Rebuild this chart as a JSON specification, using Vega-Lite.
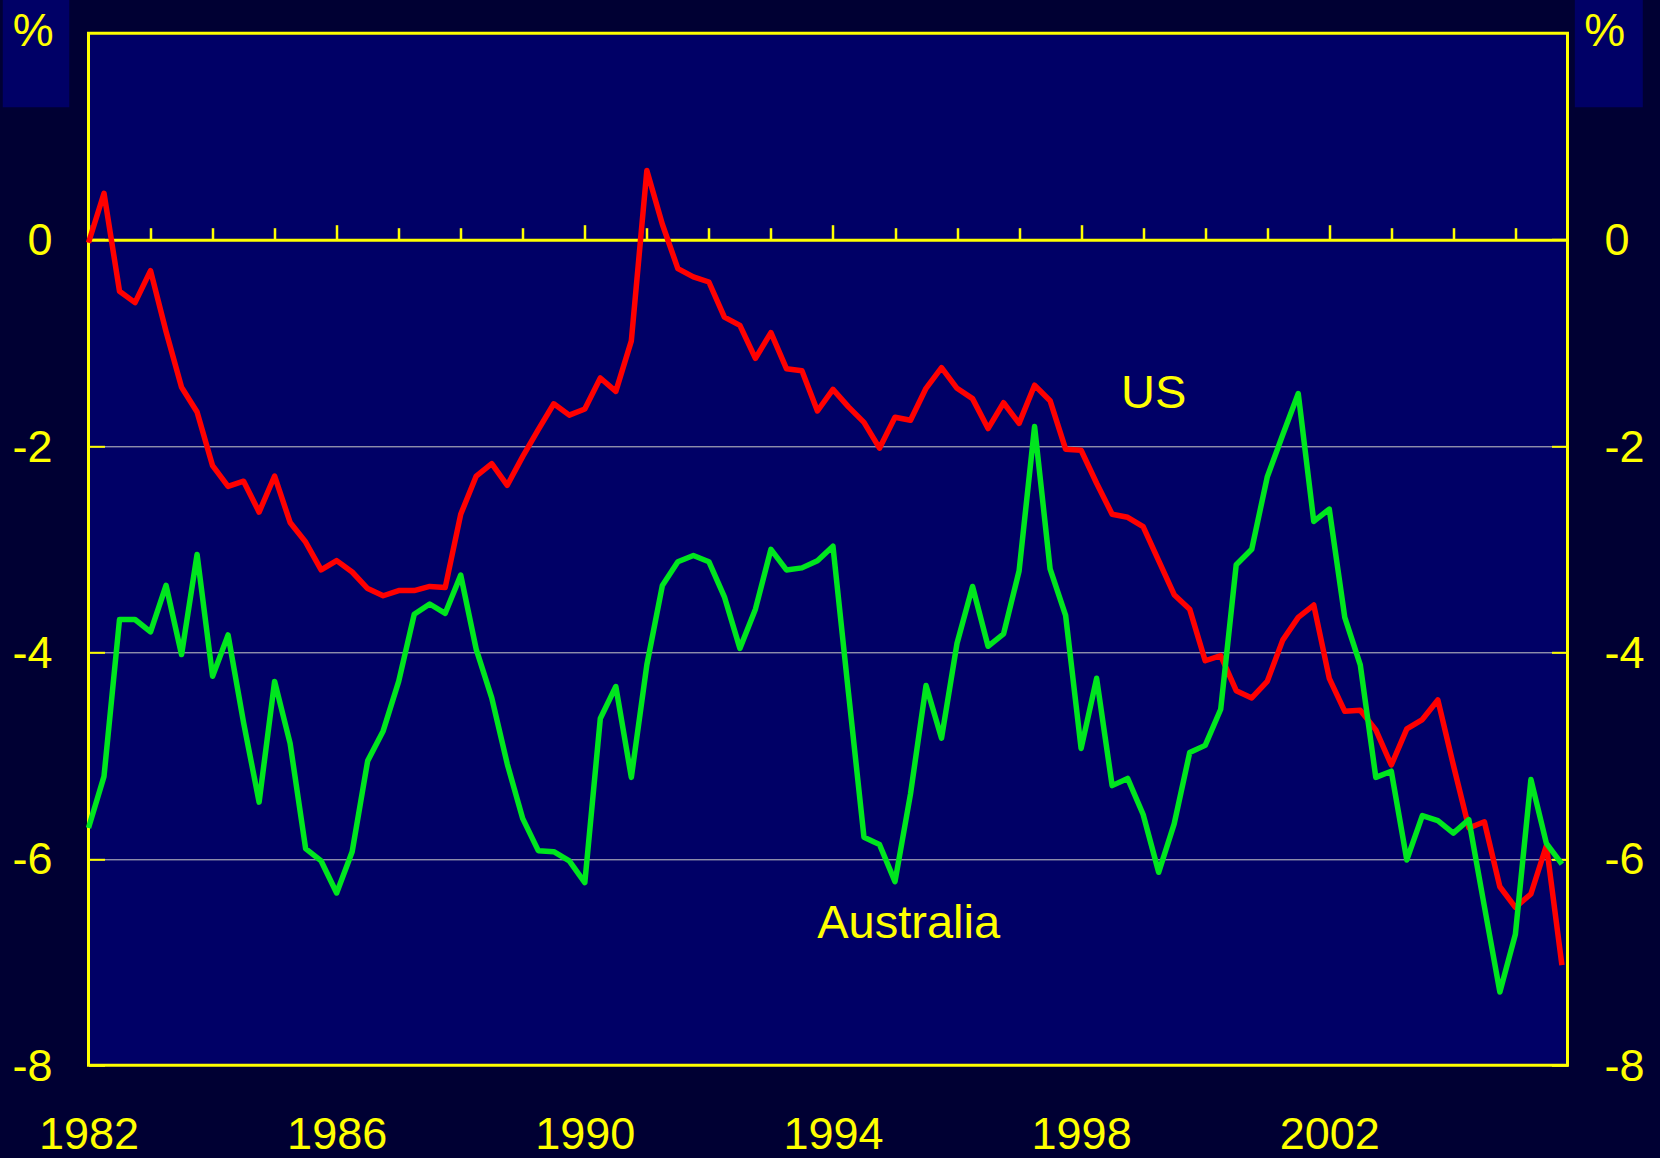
{
  "$schema": "https://vega.github.io/schema/vega-lite/v6.json",
  "width": 1479,
  "height": 1032,
  "autosize": {"type": "none"},
  "padding": {"left": 88.5, "top": 33.3, "right": 92.5, "bottom": 92.7},
  "background": "#000033",
  "config": {
    "view": {"fill": "#000066", "stroke": "#ffff00", "strokeWidth": 3},
    "font": "Liberation Sans"
  },
  "datasets": {
    "boxes": [
      {"x1": 1980.618, "x2": 1981.690, "y1": 1.283, "y2": 2.34},
      {"x1": 2005.958, "x2": 2007.054, "y1": 1.283, "y2": 2.34}
    ],
    "notes": [
      {"t": 1999.17, "v": -1.63, "txt": "US"},
      {"t": 1995.22, "v": -6.77, "txt": "Australia"}
    ],
    "pct": [
      {"t": 1981.11, "v": 1.877, "txt": "%"},
      {"t": 2006.44, "v": 1.877, "txt": "%"}
    ],
    "series": [
      {"t": 1982.00, "us": -0.03, "au": -5.70},
      {"t": 1982.25, "us": 0.45, "au": -5.20},
      {"t": 1982.50, "us": -0.50, "au": -3.68},
      {"t": 1982.75, "us": -0.61, "au": -3.68},
      {"t": 1983.00, "us": -0.30, "au": -3.80},
      {"t": 1983.25, "us": -0.89, "au": -3.35},
      {"t": 1983.50, "us": -1.43, "au": -4.02},
      {"t": 1983.75, "us": -1.67, "au": -3.05},
      {"t": 1984.00, "us": -2.19, "au": -4.23},
      {"t": 1984.25, "us": -2.39, "au": -3.83},
      {"t": 1984.50, "us": -2.34, "au": -4.68},
      {"t": 1984.75, "us": -2.64, "au": -5.45},
      {"t": 1985.00, "us": -2.29, "au": -4.28},
      {"t": 1985.25, "us": -2.74, "au": -4.88},
      {"t": 1985.50, "us": -2.93, "au": -5.90},
      {"t": 1985.75, "us": -3.20, "au": -6.02},
      {"t": 1986.00, "us": -3.11, "au": -6.33},
      {"t": 1986.25, "us": -3.22, "au": -5.93},
      {"t": 1986.50, "us": -3.38, "au": -5.05},
      {"t": 1986.75, "us": -3.45, "au": -4.76},
      {"t": 1987.00, "us": -3.40, "au": -4.28},
      {"t": 1987.25, "us": -3.40, "au": -3.63},
      {"t": 1987.50, "us": -3.36, "au": -3.53},
      {"t": 1987.75, "us": -3.37, "au": -3.62},
      {"t": 1988.00, "us": -2.66, "au": -3.25},
      {"t": 1988.25, "us": -2.29, "au": -3.97},
      {"t": 1988.50, "us": -2.17, "au": -4.44},
      {"t": 1988.75, "us": -2.38, "au": -5.08},
      {"t": 1989.00, "us": -2.10, "au": -5.61},
      {"t": 1989.25, "us": -1.84, "au": -5.92},
      {"t": 1989.50, "us": -1.59, "au": -5.93},
      {"t": 1989.75, "us": -1.70, "au": -6.02},
      {"t": 1990.00, "us": -1.64, "au": -6.23},
      {"t": 1990.25, "us": -1.34, "au": -4.64},
      {"t": 1990.50, "us": -1.47, "au": -4.33},
      {"t": 1990.75, "us": -0.98, "au": -5.21},
      {"t": 1991.00, "us": 0.67, "au": -4.12},
      {"t": 1991.25, "us": 0.15, "au": -3.35},
      {"t": 1991.50, "us": -0.28, "au": -3.12},
      {"t": 1991.75, "us": -0.36, "au": -3.06},
      {"t": 1992.00, "us": -0.41, "au": -3.12},
      {"t": 1992.25, "us": -0.75, "au": -3.46},
      {"t": 1992.50, "us": -0.83, "au": -3.96},
      {"t": 1992.75, "us": -1.15, "au": -3.58},
      {"t": 1993.00, "us": -0.90, "au": -3.00},
      {"t": 1993.25, "us": -1.25, "au": -3.20},
      {"t": 1993.50, "us": -1.27, "au": -3.18},
      {"t": 1993.75, "us": -1.66, "au": -3.11},
      {"t": 1994.00, "us": -1.45, "au": -2.97},
      {"t": 1994.25, "us": -1.62, "au": -4.39},
      {"t": 1994.50, "us": -1.77, "au": -5.79},
      {"t": 1994.75, "us": -2.02, "au": -5.86},
      {"t": 1995.00, "us": -1.72, "au": -6.22},
      {"t": 1995.25, "us": -1.75, "au": -5.37},
      {"t": 1995.50, "us": -1.44, "au": -4.32},
      {"t": 1995.75, "us": -1.24, "au": -4.83},
      {"t": 1996.00, "us": -1.44, "au": -3.91},
      {"t": 1996.25, "us": -1.54, "au": -3.36},
      {"t": 1996.50, "us": -1.83, "au": -3.94},
      {"t": 1996.75, "us": -1.58, "au": -3.82},
      {"t": 1997.00, "us": -1.78, "au": -3.21},
      {"t": 1997.25, "us": -1.41, "au": -1.81},
      {"t": 1997.50, "us": -1.56, "au": -3.19},
      {"t": 1997.75, "us": -2.03, "au": -3.64},
      {"t": 1998.00, "us": -2.04, "au": -4.93},
      {"t": 1998.25, "us": -2.36, "au": -4.25},
      {"t": 1998.50, "us": -2.66, "au": -5.29},
      {"t": 1998.75, "us": -2.69, "au": -5.22},
      {"t": 1999.00, "us": -2.78, "au": -5.57},
      {"t": 1999.25, "us": -3.11, "au": -6.13},
      {"t": 1999.50, "us": -3.44, "au": -5.66},
      {"t": 1999.75, "us": -3.58, "au": -4.97},
      {"t": 2000.00, "us": -4.08, "au": -4.90},
      {"t": 2000.25, "us": -4.03, "au": -4.55},
      {"t": 2000.50, "us": -4.37, "au": -3.15},
      {"t": 2000.75, "us": -4.44, "au": -3.00},
      {"t": 2001.00, "us": -4.28, "au": -2.30},
      {"t": 2001.25, "us": -3.88, "au": -1.89},
      {"t": 2001.50, "us": -3.66, "au": -1.49},
      {"t": 2001.75, "us": -3.54, "au": -2.73},
      {"t": 2002.00, "us": -4.25, "au": -2.61},
      {"t": 2002.25, "us": -4.57, "au": -3.66},
      {"t": 2002.50, "us": -4.56, "au": -4.12},
      {"t": 2002.75, "us": -4.75, "au": -5.21},
      {"t": 2003.00, "us": -5.09, "au": -5.15},
      {"t": 2003.25, "us": -4.74, "au": -6.01},
      {"t": 2003.50, "us": -4.65, "au": -5.58},
      {"t": 2003.75, "us": -4.46, "au": -5.63},
      {"t": 2004.00, "us": -5.09, "au": -5.75},
      {"t": 2004.25, "us": -5.70, "au": -5.62},
      {"t": 2004.50, "us": -5.64, "au": -6.46},
      {"t": 2004.75, "us": -6.27, "au": -7.29},
      {"t": 2005.00, "us": -6.47, "au": -6.73},
      {"t": 2005.25, "us": -6.34, "au": -5.23},
      {"t": 2005.50, "us": -5.87, "au": -5.85},
      {"t": 2005.75, "us": -7.03, "au": -6.05}
    ]
  },
  "layer": [
    {
      "data": {"name": "boxes"},
      "mark": {"type": "rect", "fill": "#000066"},
      "encoding": {
        "x": {"field": "x1", "type": "quantitative", "scale": {"domain": [1982, 2005.84], "nice": false, "zero": false}, "axis": null},
        "x2": {"field": "x2"},
        "y": {"field": "y1", "type": "quantitative", "scale": {"domain": [-8, 2], "nice": false, "zero": false}, "axis": null},
        "y2": {"field": "y2"}
      }
    },
    {
      "data": {"name": "series"},
      "mark": {"type": "line", "color": "#ff0000", "strokeWidth": 5.5, "strokeJoin": "round"},
      "encoding": {
        "x": {
          "field": "t", "type": "quantitative",
          "scale": {"domain": [1982, 2005.84], "nice": false, "zero": false},
          "axis": {
            "orient": "bottom", "values": [1982, 1986, 1990, 1994, 1998, 2002],
            "labelExpr": "'' + datum.value", "labelFontSize": 45, "labelColor": "#ffff00",
            "labelFont": "Liberation Sans", "labelPadding": 47, "labelFlush": false,
            "labelOverlap": false, "labelBound": false, "ticks": false, "tickSize": 0,
            "domain": false, "grid": false, "title": null
          }
        },
        "y": {
          "field": "us", "type": "quantitative",
          "scale": {"domain": [-8, 2], "nice": false, "zero": false},
          "axis": {
            "orient": "left", "values": [-8, -6, -4, -2, 0],
            "labelExpr": "'' + datum.value", "labelFontSize": 45, "labelColor": "#ffff00",
            "labelFont": "Liberation Sans", "labelPadding": 52.5, "labelOffset": 1,
            "tickSize": -16, "tickColor": "#ffff00", "tickWidth": 2,
            "domain": false, "grid": true, "gridColor": "#c8c8c8", "gridWidth": 1,
            "gridOpacity": {"condition": {"test": "datum.value === 0 || datum.value === -8", "value": 0}, "value": 1},
            "title": null
          }
        }
      }
    },
    {
      "data": {"name": "series"},
      "mark": {"type": "line", "color": "#00e61e", "strokeWidth": 5.5, "strokeJoin": "round"},
      "encoding": {
        "x": {
          "field": "t", "type": "quantitative",
          "scale": {"domain": [1982, 2005.84], "nice": false, "zero": false},
          "axis": {
            "orient": "top", "offset": -206.4,
            "values": [1982, 1983, 1984, 1985, 1986, 1987, 1988, 1989, 1990, 1991, 1992, 1993, 1994, 1995, 1996, 1997, 1998, 1999, 2000, 2001, 2002, 2003, 2004, 2005],
            "labels": false, "ticks": true, "tickColor": "#ffff00", "tickWidth": 2.5,
            "tickSize": {"condition": {"test": "datum.value % 4 === 2", "value": 15}, "value": 12},
            "domain": true, "domainColor": "#ffff00", "domainWidth": 3,
            "grid": false, "title": null
          }
        },
        "y": {
          "field": "au", "type": "quantitative",
          "scale": {"domain": [-8, 2], "nice": false, "zero": false},
          "axis": {
            "orient": "right", "values": [-8, -6, -4, -2, 0],
            "labelExpr": "'' + datum.value", "labelFontSize": 45, "labelColor": "#ffff00",
            "labelFont": "Liberation Sans", "labelPadding": 52.5, "labelOffset": 1,
            "tickSize": -16, "tickColor": "#ffff00", "tickWidth": 2,
            "domain": false, "grid": false, "title": null
          }
        }
      }
    },
    {
      "data": {"name": "notes"},
      "mark": {"type": "text", "align": "center", "baseline": "alphabetic", "fontSize": 47, "font": "Liberation Sans", "color": "#ffff00"},
      "encoding": {
        "x": {"field": "t", "type": "quantitative", "scale": {"domain": [1982, 2005.84], "nice": false, "zero": false}, "axis": null},
        "y": {"field": "v", "type": "quantitative", "scale": {"domain": [-8, 2], "nice": false, "zero": false}, "axis": null},
        "text": {"field": "txt"}
      }
    },
    {
      "data": {"name": "pct"},
      "mark": {"type": "text", "align": "center", "baseline": "alphabetic", "fontSize": 46, "font": "Liberation Sans", "color": "#ffff00"},
      "encoding": {
        "x": {"field": "t", "type": "quantitative", "scale": {"domain": [1982, 2005.84], "nice": false, "zero": false}, "axis": null},
        "y": {"field": "v", "type": "quantitative", "scale": {"domain": [-8, 2], "nice": false, "zero": false}, "axis": null},
        "text": {"field": "txt"}
      }
    }
  ],
  "resolve": {"axis": {"x": "independent", "y": "independent"}}
}
